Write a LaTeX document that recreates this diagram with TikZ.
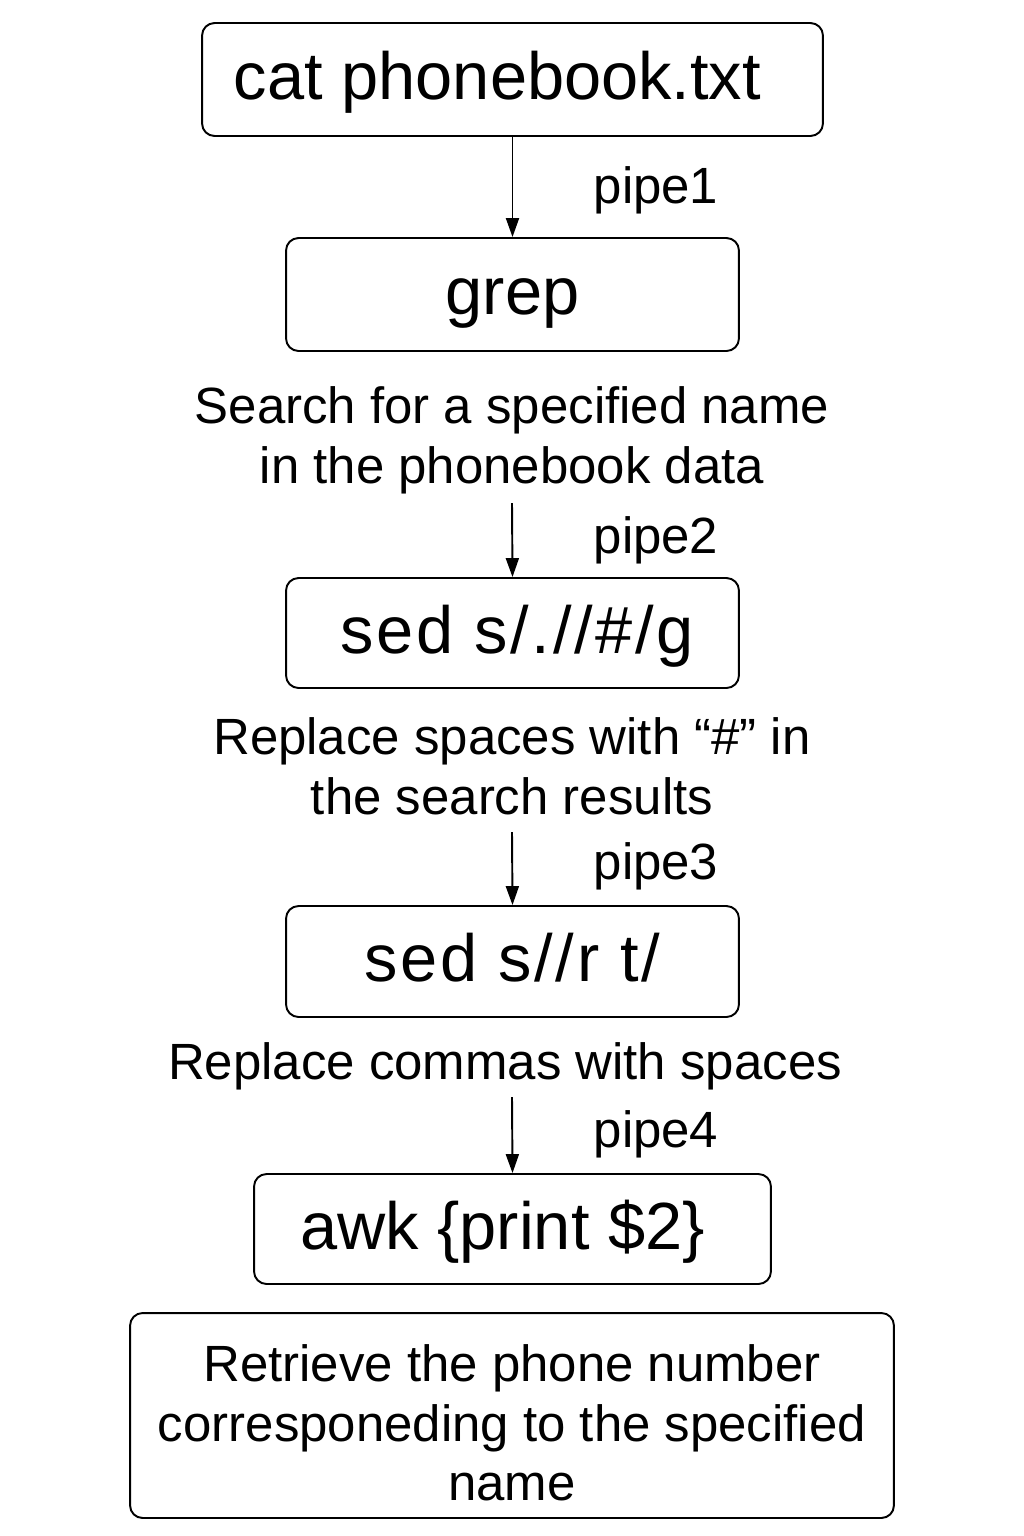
\documentclass[tikz,border=0pt]{standalone}
\usepackage{fontspec}
\setmainfont{Liberation Sans}
\usetikzlibrary{arrows.meta}

\tikzset{
  cmdbox/.style={draw, line width=1.1pt, rounded corners=0.25cm, inner sep=0pt,
    text height=0.8cm, text depth=0cm, font=\fontsize{38}{44}\selectfont},
  desc/.style={align=center, inner sep=0pt, font=\fontsize{29}{34}\selectfont},
  pipelbl/.style={inner sep=0pt, font=\fontsize{29}{34}\selectfont},
  flow/.style={-{Triangle[length=0.38cm,width=0.26cm]}, line width=1.1pt},
}

\begin{document}
\begin{tikzpicture}[x=0.02cm, y=-0.02cm]
            \useasboundingbox (0,0) rectangle (1024,1536);

            % commands in the pipeline
            \node[cmdbox, minimum width=12.42cm, minimum height=2.26cm] (cat) at (512.5,79.5) {cat phonebook.txt\kern0.6cm};
            \node[cmdbox, minimum width=9.06cm, minimum height=2.26cm] (grep) at (512.5,294.5) {grep};
            \node[cmdbox, minimum width=9.06cm, minimum height=2.2cm] (sedone) at (512.5,633) {\addfontfeature{LetterSpace=4}sed s/.//\#/g\kern-0.18cm};
            \node[cmdbox, minimum width=9.06cm, minimum height=2.22cm] (sedtwo) at (512.5,961.5) {\addfontfeature{LetterSpace=4}sed s//r t/};
            \node[cmdbox, minimum width=10.34cm, minimum height=2.2cm] (awk) at (512.5,1229) {awk \{print \$2\}\kern0.4cm};

            % what each step does
            \node[desc] (findname) at (512,440) {Search for a specified name\\in the phonebook data};
            \node[desc] (spaces) at (512,766) {Replace spaces with “\#” in\\the search results};
            \node[desc] (commas) at (505,1066) {Replace commas with spaces};
            \node[desc, draw, line width=1.1pt, rounded corners=0.25cm, minimum width=15.28cm, minimum height=4.1cm]
                (result) at (512,1415.5) {\rule{0pt}{1.03cm}Retrieve the phone number\\corresponeding to the specified\\name};

            \coordinate (fromfind) at (512,503);
            \coordinate (fromspaces) at (512,832);
            \coordinate (fromcommas) at (512,1097);

            \draw[flow] (cat) -- (grep);
            \draw[flow] (fromfind) -- (sedone.north);
            \draw[flow] (fromspaces) -- (sedtwo.north);
            \draw[flow] (fromcommas) -- (awk.north);

            \node[pipelbl] (pipeone) at (656,190) {pipe1};
            \node[pipelbl] (pipetwo) at (656,540) {pipe2};
            \node[pipelbl] (pipethree) at (656,866) {pipe3};
            \node[pipelbl] (pipefour) at (656,1134) {pipe4};

        \end{tikzpicture}
\end{document}
